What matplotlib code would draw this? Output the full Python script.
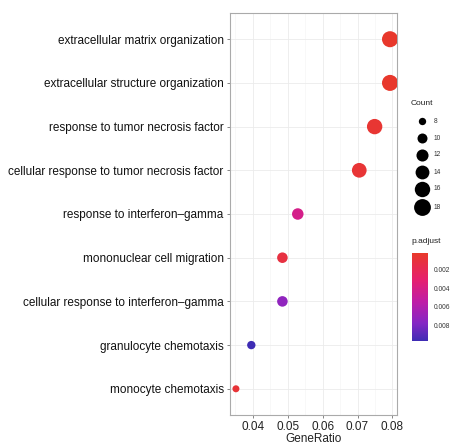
import matplotlib
matplotlib.use("Agg")
import matplotlib.pyplot as plt
import numpy as np
from matplotlib.colors import LinearSegmentedColormap, Normalize

plt.rcParams['font.family'] = ['Liberation Sans', 'DejaVu Sans']

terms = [
    "extracellular matrix organization",
    "extracellular structure organization",
    "response to tumor necrosis factor",
    "cellular response to tumor necrosis factor",
    "response to interferon\u2013gamma",
    "mononuclear cell migration",
    "cellular response to interferon\u2013gamma",
    "granulocyte chemotaxis",
    "monocyte chemotaxis",
]
gene_ratio = [0.0793, 0.0793, 0.0749, 0.0705, 0.0529, 0.0485, 0.0485, 0.0396, 0.0352]
counts = [18, 18, 17, 16, 12, 11, 11, 9, 8]
p_adjust = [0.0003, 0.0003, 0.0006, 0.0007, 0.0042, 0.0012, 0.0073, 0.0097, 0.0008]

x_ticks = [0.04, 0.05, 0.06, 0.07, 0.08]
x_tick_labels = ["0.04", "0.05", "0.06", "0.07", "0.08"]
count_breaks = [8, 10, 12, 14, 16, 18]
padj_breaks = [0.002, 0.004, 0.006, 0.008]
padj_labels = ["0.002", "0.004", "0.006", "0.008"]

W, H = 456, 447
fig = plt.figure(figsize=(W / 100, H / 100), dpi=100)

def px_rect(x0, y0, x1, y1):
    return [x0 / W, (H - y1) / H, (x1 - x0) / W, (y1 - y0) / H]

cmap = LinearSegmentedColormap.from_list(
    "padj", [(0.0, "#E8392A"), (0.3, "#E6206E"), (0.55, "#C01CA6"),
             (0.8, "#8427C4"), (1.0, "#3E2CB4")])
norm = Normalize(vmin=0.0002, vmax=0.0097)

def size_of(c):
    return 25.4 + 10.8 * (np.asarray(c) - 8)

ax = fig.add_axes(px_rect(230, 13, 397, 415))
ypos = np.arange(len(terms))[::-1] + 1
ax.scatter(gene_ratio, ypos, s=size_of(counts), c=p_adjust, cmap=cmap, norm=norm,
           zorder=3, linewidths=0)
ax.set_xlim(0.0335, 0.0813)
ax.set_ylim(0.4, 9.6)
ax.set_yticks(ypos)
ax.set_yticklabels(terms, fontsize=8.5, color="#111111")
ax.set_xticks(x_ticks)
ax.set_xticklabels(x_tick_labels, fontsize=8.5, color="#222222")
ax.set_xticks([0.035, 0.045, 0.055, 0.065, 0.075], minor=True)
ax.grid(True, which="major", color="#ebebeb", linewidth=0.6)
ax.grid(True, which="minor", axis="x", color="#f3f3f3", linewidth=0.4)
ax.set_axisbelow(True)
ax.tick_params(axis="both", which="major", length=2.5, width=0.5, color="#555555", pad=2)
ax.tick_params(axis="x", which="minor", length=0)
for sp in ax.spines.values():
    sp.set_color("#aaaaaa")
    sp.set_linewidth(0.8)
ax.set_xlabel("GeneRatio", fontsize=8.5, color="#222222", labelpad=0)

# Size legend
lax = fig.add_axes(px_rect(400, 95, 456, 218))
lax.set_xlim(400, 456)
lax.set_ylim(218, 95)
lax.axis("off")
lax.text(411, 103, "Count", fontsize=6, va="center", ha="left", color="#222222")
leg_y = [121, 138, 155, 172, 189, 207]
for c, yy in zip(count_breaks, leg_y):
    lax.scatter([422.5], [yy], s=size_of(c) * 1.1, color="black", linewidths=0)
    lax.text(434, yy, str(c), fontsize=4.8, va="center", ha="left", color="#333333")

# Colorbar
fig.text(411 / W, 1 - 241 / H, "p.adjust", fontsize=6, va="center", ha="left", color="#222222")
cax = fig.add_axes(px_rect(412, 253, 428, 341))
sm = plt.cm.ScalarMappable(norm=norm, cmap=cmap)
cb = fig.colorbar(sm, cax=cax)
cax.invert_yaxis()
cb.set_ticks(padj_breaks)
cb.set_ticklabels(padj_labels)
cb.outline.set_visible(False)
cax.tick_params(labelsize=4.8, length=2, width=0.5, color="white", pad=2, labelcolor="#333333")

fig.savefig("out.png", dpi=100)
